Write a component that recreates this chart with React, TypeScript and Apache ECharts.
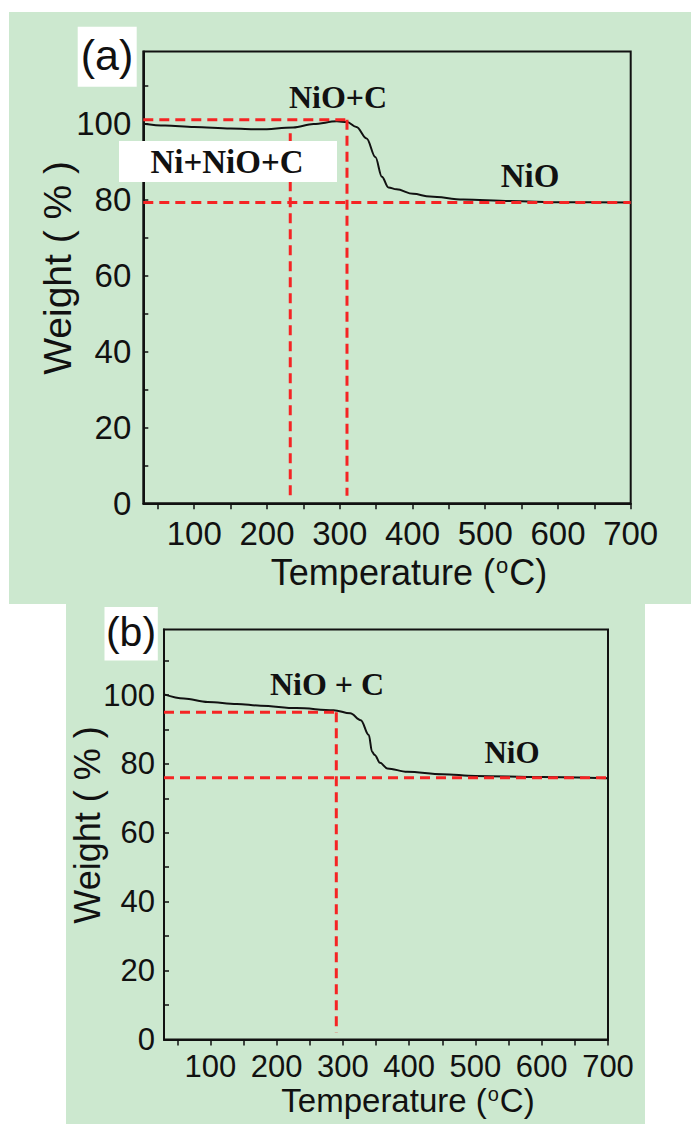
import React, { useEffect, useRef } from "react";
import * as echarts from "echarts";

// ---- Panel (a) TGA curve ----
const tempA = [30, 60, 100, 150, 190, 236, 264, 296, 310, 323, 337, 349, 358, 367, 378, 401, 424, 470, 534, 607, 700];
const weightA = [100.0, 99.5, 99.1, 98.7, 98.5, 99.0, 99.9, 100.6, 100.4, 99.1, 96.1, 91.2, 86.0, 83.2, 82.7, 81.5, 80.8, 80.0, 79.6, 79.3, 79.2];

// ---- Panel (b) TGA curve ----
const tempB = [30, 60, 96, 140, 176, 230, 286, 311, 327, 339, 344, 348, 356, 367, 397, 450, 500, 600, 700];
const weightB = [100.2, 99.0, 98.0, 97.4, 96.9, 96.2, 95.6, 94.7, 92.7, 88.4, 83.5, 82.6, 80.3, 78.7, 77.7, 77.0, 76.5, 76.2, 75.8];

// ---- Red dashed guide lines (temperature, weight) ----
const guidesA = [
  [[30, 101], [310, 101]],
  [[310, 101], [310, 2]],
  [[232, 97.5], [232, 2]],
  [[30, 79.2], [700, 79.2]],
];
const guidesB = [
  [[30, 95], [290, 95]],
  [[290, 95], [290, 2]],
  [[30, 76], [700, 76]],
];

// ---- Axis ticks / labels ----
const xTicks = [50, 100, 150, 200, 250, 300, 350, 400, 450, 500, 550, 600, 650, 700];
const xLabels = [100, 200, 300, 400, 500, 600, 700];
const yTicks = [0, 10, 20, 30, 40, 50, 60, 70, 80, 90, 100, 110];
const yLabels = [0, 20, 40, 60, 80, 100];
const xRange = [30, 700];
const yRange = [0, 119];

const SANS = "Liberation Sans";
const SERIF = "Liberation Serif";
const INK = "#111111";
const RED = "#f52424";
const GREEN = "#cce8cf";

function App() {
  const ref = useRef<HTMLDivElement>(null);
  useEffect(() => {
    if (!ref.current) return;
    const chart = echarts.init(ref.current, undefined, { renderer: "svg" });

    const makeX = (gridIndex: number, fs: number, margin: number, nameFs: number, nameGap: number) => ({
      type: "value",
      gridIndex,
      min: xRange[0],
      max: xRange[1],
      axisLine: { show: true, onZero: false, lineStyle: { color: INK, width: 2 } },
      axisTick: { show: true, inside: false, length: 6, customValues: xTicks, lineStyle: { color: INK, width: 1.5 } },
      axisLabel: { customValues: xLabels, margin, fontSize: fs, fontFamily: SANS, color: INK },
      splitLine: { show: false },
      name: "Temperature ({s|o}C)",
      nameLocation: "middle",
      nameGap,
      nameMoveOverlap: false,
      nameTextStyle: {
        fontSize: nameFs,
        fontFamily: SANS,
        color: INK,
        padding: [0, 0, 0, 44],
        rich: { s: { fontSize: Math.round(nameFs * 0.62), fontFamily: SANS, color: INK, verticalAlign: "top", padding: [0, 1, 0, 1] } },
      },
    });
    const makeY = (gridIndex: number, fs: number, margin: number, nameFs: number, nameGap: number) => ({
      type: "value",
      gridIndex,
      min: yRange[0],
      max: yRange[1],
      axisLine: { show: true, onZero: false, lineStyle: { color: INK, width: 2 } },
      axisTick: { show: true, inside: true, length: 5, customValues: yTicks, lineStyle: { color: INK, width: 1.5 } },
      axisLabel: { customValues: yLabels, margin, fontSize: fs, fontFamily: SANS, color: INK },
      splitLine: { show: false },
      name: "Weight ( % )",
      nameLocation: "middle",
      nameRotate: 90,
      nameGap,
      nameMoveOverlap: false,
      nameTextStyle: { fontSize: nameFs, fontFamily: SANS, color: INK, padding: [0, 0, 0, 19] },
    });

    const curve = (idx: number, t: number[], w: number[]) => ({
      type: "line",
      xAxisIndex: idx,
      yAxisIndex: idx,
      data: t.map((v, i) => [v, w[i]]),
      showSymbol: false,
      smooth: 0.35,
      smoothMonotone: "x",
      lineStyle: { color: INK, width: 2 },
      z: 2,
    });
    const guide = (idx: number, seg: number[][]) => ({
      type: "line",
      xAxisIndex: idx,
      yAxisIndex: idx,
      data: seg,
      showSymbol: false,
      lineStyle: { color: RED, width: 3, type: [10, 6] },
      z: 3,
    });

    const boldText = (text: string, x: number, y: number, fs: number) => ({
      type: "text",
      x,
      y,
      z: 120,
      style: { text, fontSize: fs, fontFamily: SERIF, fontWeight: "bold", fill: INK, align: "center", verticalAlign: "middle" },
    });

    chart.setOption({
      animation: false,
      backgroundColor: "#ffffff",
      grid: [
        { left: 143.3, top: 51.5, width: 487.4, height: 451.8, show: true, borderColor: INK, borderWidth: 2, backgroundColor: "transparent" },
        { left: 164, top: 629.6, width: 444, height: 409.8, show: true, borderColor: INK, borderWidth: 2, backgroundColor: "transparent" },
      ],
      xAxis: [makeX(0, 33, 13.5, 36, 51), makeX(1, 31, 12, 33, 45)],
      yAxis: [makeY(0, 33, 12, 39, 66), makeY(1, 31, 9, 36, 59)],
      series: [
        curve(0, tempA, weightA),
        ...guidesA.map((s) => guide(0, s)),
        curve(1, tempB, weightB),
        ...guidesB.map((s) => guide(1, s)),
      ],
      graphic: [
        { type: "rect", z: -100, shape: { x: 9, y: 12, width: 682, height: 592 }, style: { fill: GREEN } },
        { type: "rect", z: -100, shape: { x: 66, y: 604, width: 579, height: 520 }, style: { fill: GREEN } },
        { type: "rect", z: 100, shape: { x: 77.7, y: 26.7, width: 59, height: 60 }, style: { fill: "#ffffff" } },
        { type: "text", z: 110, x: 107, y: 55, style: { text: "(a)", fontSize: 43, fontFamily: SANS, fill: INK, align: "center", verticalAlign: "middle" } },
        { type: "rect", z: 100, shape: { x: 119, y: 141, width: 218, height: 41 }, style: { fill: "#ffffff" } },
        boldText("Ni+NiO+C", 227, 162, 33),
        boldText("NiO+C", 338, 97, 32),
        boldText("NiO", 530, 176, 33),
        { type: "rect", z: 100, shape: { x: 104.5, y: 607, width: 53.3, height: 53.6 }, style: { fill: "#ffffff" } },
        { type: "text", z: 110, x: 131, y: 632, style: { text: "(b)", fontSize: 41, fontFamily: SANS, fill: INK, align: "center", verticalAlign: "middle" } },
        boldText("NiO + C", 327, 684, 32),
        boldText("NiO", 512, 752, 31),
      ],
    });
    return () => chart.dispose();
  }, []);
  return <div ref={ref} style={{ position: "absolute", left: 0, top: 0, width: 691, height: 1130 }} />;
}

export default App;
